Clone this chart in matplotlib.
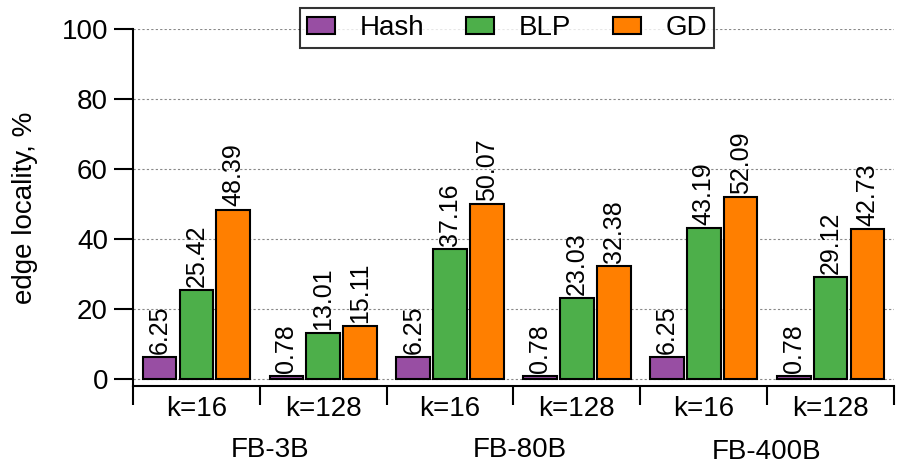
import matplotlib
matplotlib.use("Agg")
import matplotlib.pyplot as plt
import numpy as np

# data
groups = ["k=16", "k=128", "k=16", "k=128", "k=16", "k=128"]
datasets = ["FB-3B", "FB-80B", "FB-400B"]
hash_vals = [6.25, 0.78, 6.25, 0.78, 6.25, 0.78]
blp_vals = [25.42, 13.01, 37.16, 23.03, 43.19, 29.12]
gd_vals = [48.39, 15.11, 50.07, 32.38, 52.09, 42.73]

series = [
    ("Hash", hash_vals, "#984EA3"),
    ("BLP", blp_vals, "#4DAF4A"),
    ("GD", gd_vals, "#FF7F00"),
]

plt.rcParams['font.family'] = ['Liberation Sans', 'DejaVu Sans']

fig = plt.figure(figsize=(9.09, 4.71), dpi=100)
ax = fig.add_axes([133 / 909, 1 - 386 / 471, (894 - 133) / 909, (386 - 29) / 471])

x = np.arange(len(groups))
width = 0.265
offsets = [-0.29, 0.0, 0.29]

for (name, vals, color), off in zip(series, offsets):
    bars = ax.bar(x + off, vals, width, color=color, edgecolor="black",
                  linewidth=1.5, label=name, zorder=3)
    for b, v in zip(bars, vals):
        ax.text(b.get_x() + b.get_width() / 2, v + 0.9, f"{v:.2f}",
                rotation=90, ha="center", va="bottom", fontsize=18, zorder=4)

ax.set_xlim(-0.5, len(groups) - 0.5)
ax.set_ylim(-2, 100)
ax.set_yticks([0, 20, 40, 60, 80, 100])
ax.tick_params(axis="y", direction="out", length=14, width=1.5, labelsize=20, pad=4)
ax.yaxis.grid(True, linestyle=(0, (2, 2)), color="#888888", linewidth=0.8, zorder=0)

# group separators as ticks, labels in between
ax.set_xticks(np.arange(len(groups) + 1) - 0.5)
ax.set_xticklabels([])
ax.tick_params(axis="x", direction="out", length=14, width=1.5)
ax.set_xticks(x, minor=True)
ax.set_xticklabels(groups, minor=True)
ax.tick_params(axis="x", which="minor", length=0, labelsize=20, pad=7)

for side in ["top", "right"]:
    ax.spines[side].set_visible(False)
ax.spines["left"].set_linewidth(1.5)
ax.spines["bottom"].set_linewidth(1.5)
ax.spines["left"].set_bounds(-2, 100)

ax.set_ylabel("edge locality, %", fontsize=20, labelpad=17)

# dataset names under each pair of groups
name_x = [270, 520, 767]
name_y = [450, 450, 452]
for label, px, py in zip(datasets, name_x, name_y):
    fig.text(px / 909, 1 - py / 471, label, ha="center", va="center", fontsize=20)

leg = fig.legend(loc="center", bbox_to_anchor=(507 / 909, 1 - 28 / 471), ncol=3,
                 fontsize=20, frameon=True, fancybox=False, edgecolor="black",
                 handlelength=1.0, handleheight=0.55, columnspacing=1.5,
                 handletextpad=0.9, borderpad=0.25)
leg.get_frame().set_linewidth(1.5)
leg.set_zorder(10)

fig.savefig("out.png", dpi=100)
